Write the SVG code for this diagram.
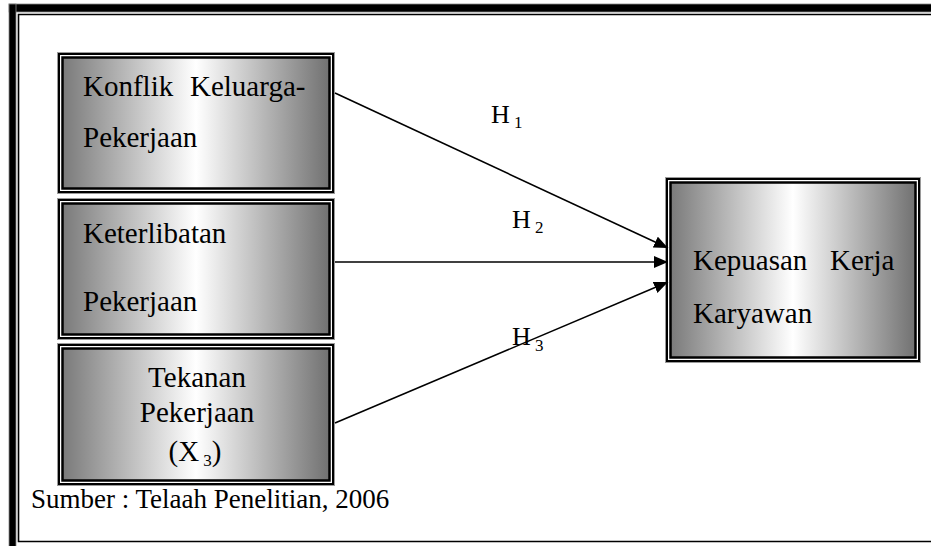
<svg xmlns="http://www.w3.org/2000/svg" width="931" height="546" viewBox="0 0 931 546">
<defs>
<linearGradient id="g" x1="0" y1="0" x2="1" y2="0">
<stop offset="0" stop-color="#7a7a7a"/>
<stop offset="0.5" stop-color="#ffffff"/>
<stop offset="1" stop-color="#717171"/>
</linearGradient>
<marker id="ah" viewBox="0 0 14 12" refX="14" refY="6" markerWidth="14" markerHeight="12" markerUnits="userSpaceOnUse" orient="auto">
<path d="M0,0 L14,6 L0,12 Z" fill="#000"/>
</marker>
<style>
.o{fill:none;stroke:#9a9a9a;stroke-width:1}
.b1{fill:none;stroke:#000;stroke-width:2}
.b2{fill:url(#g);stroke:#000;stroke-width:2.5}
.s{font-size:17px}
.c{stroke:#000;stroke-width:1.6;fill:none;marker-end:url(#ah)}
</style>
</defs>
<rect width="931" height="546" fill="#fff"/>
<g id="frame">
<rect x="9" y="4" width="930" height="8" fill="#000" stroke="#888" stroke-width="0.8"/>
<rect x="9" y="4" width="7" height="550" fill="#000" stroke="#888" stroke-width="0.8"/>
<polyline points="935,14.5 18.5,14.5 18.5,541.5 935,541.5" fill="none" stroke="#000" stroke-width="1.6"/>
</g>
<g font-family="'Liberation Serif', 'Times New Roman', 'DejaVu Serif', serif" font-size="29" fill="#000">
<g id="node-konflik">
<rect class="o" x="57.5" y="52.5" width="277" height="141"/>
<rect class="b1" x="59" y="54" width="274" height="138"/>
<rect class="b2" x="62.5" y="57.5" width="267" height="131"/>
<text x="83" y="96">Konflik</text>
<text x="190" y="96">Keluarga-</text>
<text x="83" y="147">Pekerjaan</text>
</g>
<g id="node-keterlibatan">
<rect class="o" x="57.5" y="198.5" width="277" height="141"/>
<rect class="b1" x="59" y="200" width="274" height="138"/>
<rect class="b2" x="62.5" y="203.5" width="267" height="131"/>
<text x="83" y="243">Keterlibatan</text>
<text x="83" y="311">Pekerjaan</text>
</g>
<g id="node-tekanan">
<rect class="o" x="57.5" y="343.5" width="277" height="142"/>
<rect class="b1" x="59" y="345" width="274" height="139"/>
<rect class="b2" x="62.5" y="348.5" width="267" height="132"/>
<text x="197" y="387" text-anchor="middle">Tekanan</text>
<text x="197" y="422" text-anchor="middle">Pekerjaan</text>
<text x="195" y="461" text-anchor="middle">(X<tspan class="s" dy="5"> 3</tspan><tspan dy="-5">)</tspan></text>
</g>
<g id="node-kepuasan">
<rect class="o" x="665.5" y="177.5" width="255" height="185"/>
<rect class="b1" x="667" y="179" width="252" height="182"/>
<rect class="b2" x="670.5" y="182.5" width="245" height="175"/>
<text x="693" y="270">Kepuasan</text>
<text x="830" y="270">Kerja</text>
<text x="693" y="323">Karyawan</text>
</g>
<g id="connectors">
<line class="c" x1="335" y1="93" x2="668" y2="248"/>
<line class="c" x1="335" y1="262" x2="668" y2="262"/>
<line class="c" x1="335" y1="423" x2="668" y2="282"/>
</g>
<g id="labels" font-size="26">
<text x="491" y="123">H<tspan class="s" dy="5"> 1</tspan></text>
<text x="512" y="228">H<tspan class="s" dy="5"> 2</tspan></text>
<text x="512" y="345">H<tspan class="s" dy="6"> 3</tspan></text>
<text x="31" y="508" font-size="27">Sumber : Telaah Penelitian, 2006</text>
</g>
</g>
</svg>
